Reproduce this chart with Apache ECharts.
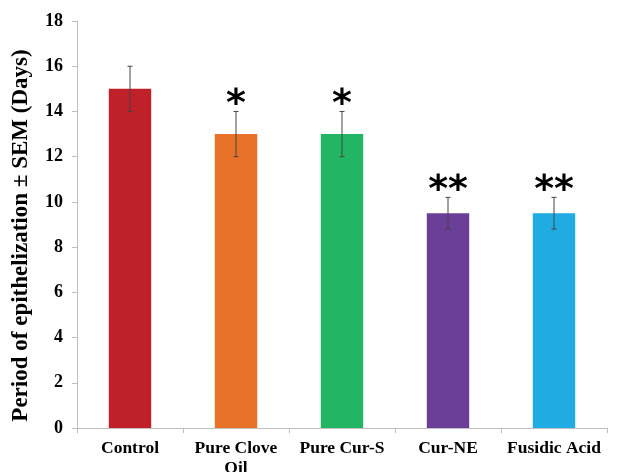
<!DOCTYPE html>
<html><head><meta charset="utf-8">
<script src="https://cdn.jsdelivr.net/npm/echarts@6/dist/echarts.min.js"></script>
<style>html,body{margin:0;padding:0;background:#fff}#c{width:632px;height:472px}</style>
</head><body><div id="c"></div>
<script>
const categories = ['Control', 'Pure Clove\nOil', 'Pure Cur-S', 'Cur-NE', 'Fusidic Acid'];
const values = [15, 13, 13, 9.5, 9.5];
const errors = [1, 1, 1, 0.7, 0.7];
const marks = ['', '*', '*', '**', '**'];
const colors = ['#C0202A', '#E87228', '#21B564', '#6B3F98', '#20ABE2'];
const yTicks = [0, 2, 4, 6, 8, 10, 12, 14, 16, 18];

const chart = echarts.init(document.getElementById('c'));
const font = '"Liberation Serif", "Times New Roman", serif';
chart.setOption({
  animation: false,
  grid: {left: 77, right: 25, top: 21, bottom: 44, outerBoundsMode: 'none', containLabel: false},
  xAxis: {
    type: 'category', data: categories,
    axisLine: {lineStyle: {color: '#BFBFBF'}},
    axisTick: {show: true, length: 5, lineStyle: {color: '#BFBFBF'}},
    axisLabel: {fontFamily: font, fontWeight: 'bold', fontSize: 17.5, color: '#000', margin: 10, lineHeight: 20, interval: 0}
  },
  yAxis: {
    type: 'value', min: 0, max: 18, interval: 2,
    name: 'Period of epithelization \u00b1 SEM (Days)',
    nameLocation: 'middle', nameGap: 44,
    nameTextStyle: {fontFamily: font, fontWeight: 'bold', fontSize: 23, color: '#000', padding: [0, 22, 0, 0]},
    axisLine: {show: true, lineStyle: {color: '#BFBFBF'}},
    axisTick: {show: true, length: 5, lineStyle: {color: '#BFBFBF'}},
    splitLine: {show: false},
    axisLabel: {fontFamily: font, fontWeight: 'bold', fontSize: 18, color: '#000', margin: 14,
      formatter: v => yTicks.includes(v) ? String(v) : ''}
  },
  series: [
    {
      type: 'bar', barWidth: '40%',
      data: values.map((v, i) => ({value: v, itemStyle: {color: colors[i]}}))
    },
    {
      type: 'custom', z: 5,
      data: values.map((v, i) => [i, v - errors[i], v + errors[i]]),
      renderItem: function (params, api) {
        const x = api.coord([api.value(0), 0])[0];
        const lo = api.coord([api.value(0), api.value(1)])[1];
        const hi = api.coord([api.value(0), api.value(2)])[1];
        const w = 2.5;
        const st = {stroke: '#444', lineWidth: 1};
        const children = [
          {type: 'line', shape: {x1: x, y1: lo, x2: x, y2: hi}, style: st},
          {type: 'line', shape: {x1: x - w, y1: lo, x2: x + w, y2: lo}, style: st},
          {type: 'line', shape: {x1: x - w, y1: hi, x2: x + w, y2: hi}, style: st}
        ];
        const m = marks[params.dataIndex];
        if (m) {
          children.push({type: 'text', style: {
            text: m, x: x, y: hi - 6, align: 'center', verticalAlign: 'middle',
            fontFamily: '"DejaVu Sans", sans-serif', fontWeight: 'bold', fontSize: 38, fill: '#000'
          }});
        }
        return {type: 'group', children: children};
      }
    }
  ]
});
</script></body></html>
